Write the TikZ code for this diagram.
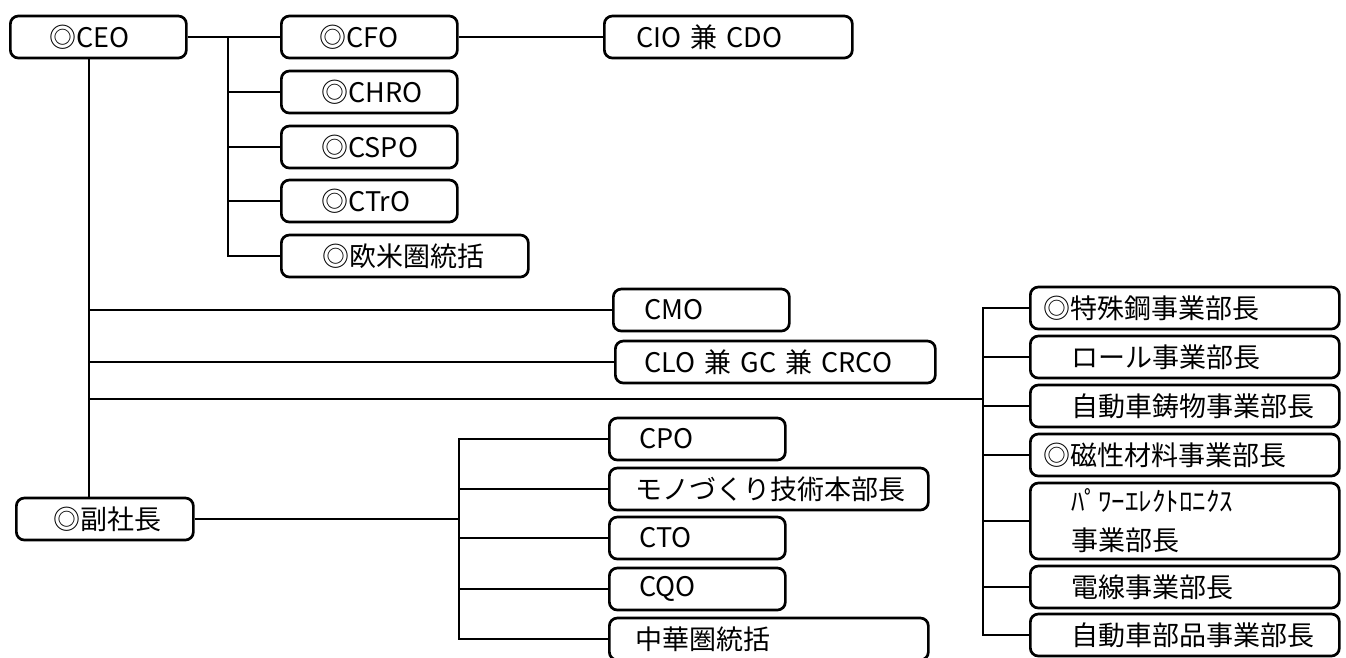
\documentclass[tikz,border=0pt]{standalone}
\usepackage{fontspec}
\setmainfont{Noto Sans CJK JP}

\begin{document}
\begin{tikzpicture}[x=1pt,y=-1pt,line width=2.7pt,
	box/.style 2 args={draw,rounded corners=8pt,anchor=west,minimum height=42pt,
		inner xsep=0pt,inner ysep=0pt,text width=#1,align=left,
		execute at begin node={\leftskip=#2pt\relax},
		font=\fontsize{27}{39}\selectfont}]
	\useasboundingbox (0,0) rectangle (1346,657);
	\clip (0,0) rectangle (1346,657);
	
	% top group
	\node[box={176}{39}] (ceo) at (9,37) {◎CEO};
	\node[box={176}{38}] (cfo) at (280,37) {◎CFO};
	\node[box={176}{40}] (chro) at (280,92) {◎CHRO};
	\node[box={176}{40}] (cspo) at (280,147) {◎CSPO};
	\node[box={176}{40}] (ctro) at (280,201) {◎CTrO};
	\node[box={247}{41}] (oubei) at (280,256) {◎欧米圏統括};
	\node[box={248}{32}] (cio) at (603,37) {CIO 兼 CDO};
	
	% middle
	\node[box={176}{31}] (cmo) at (612,310) {CMO};
	\node[box={320}{29}] (clo) at (614,362) {CLO 兼 GC 兼 CRCO};
	
	% vice president group
	\node[box={177}{37}] (fuku) at (15,519) {◎副社長};
	\node[box={176}{30}] (cpo) at (608,439) {CPO};
	\node[box={319}{26}] (mono) at (608,489) {モノづくり技術本部長};
	\node[box={176}{30}] (cto) at (608,538) {CTO};
	\node[box={176}{30}] (cqo) at (608,589) {CQO};
	\node[box={319}{26}] (chuka) at (608,639) {中華圏統括};
	
	% divisions
	\node[box={309}{13}] (tokushu) at (1029,308) {◎特殊鋼事業部長};
	\node[box={309}{41}] (roll) at (1029,357) {ロール事業部長};
	\node[box={309}{41}] (chuzo) at (1029,406) {自動車鋳物事業部長};
	\node[box={309}{13}] (jisei) at (1029,455) {◎磁性材料事業部長};
	\node[box={309}{41},minimum height=76pt] (power) at (1029,521) {ﾊﾟﾜｰｴﾚｸﾄﾛﾆｸｽ\\事業部長};
	\node[box={309}{41}] (densen) at (1029,587) {電線事業部長};
	\node[box={309}{41}] (buhin) at (1029,635) {自動車部品事業部長};
	
	\coordinate (bus) at (228,0);
	\coordinate (trunk) at (89,0);
	\coordinate (vbus) at (459,0);
	\coordinate (rjoin) at (983,399);
	
	% lines
	\draw (ceo.east) -- (cfo.west);
	\draw (cfo.east) -- (cio.west);
	\draw (bus |- cfo.west) -- (bus |- oubei.west) -- (oubei.west);
	\foreach \n in {chro,cspo,ctro}
		\draw (bus |- \n.west) -- (\n.west);
	
	\draw (trunk |- ceo.south) -- (trunk |- fuku.north);
	\foreach \n in {cmo,clo}
		\draw (trunk |- \n.west) -- (\n.west);
	\draw (trunk |- rjoin) -- (rjoin);
	
	\draw (tokushu.west) -- (rjoin |- tokushu.west) -- (rjoin |- buhin.west) -- (buhin.west);
	\foreach \n in {roll,chuzo,jisei,power,densen}
		\draw (rjoin |- \n.west) -- (\n.west);
	
	\draw (fuku.east) -- (vbus |- fuku.east);
	\draw (cpo.west) -- (vbus |- cpo.west) -- (vbus |- chuka.west) -- (chuka.west);
	\foreach \n in {mono,cto,cqo}
		\draw (vbus |- \n.west) -- (\n.west);
\end{tikzpicture}
\end{document}
